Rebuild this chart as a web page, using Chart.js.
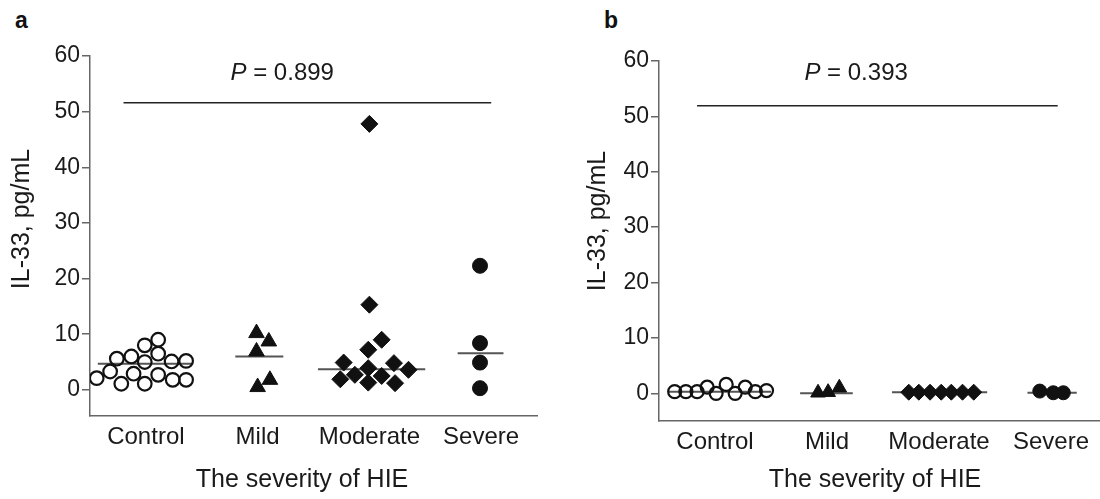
<!DOCTYPE html>
<html>
<head>
<meta charset="utf-8">
<script src="https://cdn.jsdelivr.net/npm/chart.js@4/dist/chart.umd.min.js"></script>
<style>
html, body { margin: 0; padding: 0; background: #fff; overflow: hidden; width: 1100px; height: 499px; }
canvas { position: absolute; top: 0; }
.tag { position: absolute; font: bold 23px "Liberation Sans", Arial, sans-serif; color: #111; }
</style>
</head>
<body>
<div class="tag" style="left:15px;top:7px">a</div>
<div class="tag" style="left:604px;top:7px">b</div>
<canvas id="chartA" width="560" height="499" style="left:0px"></canvas>
<canvas id="chartB" width="560" height="499" style="left:570px"></canvas>
<script>
var categories = ["Control", "Mild", "Moderate", "Severe"];
var yTicks = [0, 10, 20, 30, 40, 50, 60];
var pValues = ["0.899", "0.393"];

// panel a - IL-33 values, pg/mL, with horizontal jitter around each category
var aControl = [2.1, 3.3, 5.6, 1.1, 6.0, 2.9, 8.0, 5.0, 1.1, 9.0, 6.5, 2.7, 5.1, 1.8, 5.2, 1.8];
var aControlJit = [-0.44, -0.32, -0.26, -0.22, -0.13, -0.11, -0.01, -0.01, -0.01, 0.11, 0.11, 0.11, 0.23, 0.24, 0.36, 0.36];
var aMild = [10.2, 8.7, 6.9, 1.8, 0.5];
var aMildJit = [-0.01, 0.10, -0.01, 0.11, 0.0];
var aModerate = [47.8, 15.3, 9.0, 7.2, 4.9, 4.8, 3.9, 3.6, 2.7, 2.5, 1.9, 1.3, 1.2];
var aModerateJit = [0.0, 0.0, 0.11, -0.01, -0.23, 0.22, -0.01, 0.35, -0.13, 0.11, -0.26, -0.01, 0.23];
var aSevere = [22.3, 8.4, 4.9, 0.3];
var aSevereJit = [-0.01, -0.01, -0.01, -0.01];
var aMedian = [4.7, 6.0, 3.7, 6.6];
var aMedianSpan = [[0.57, 1.42], [1.80, 2.23], [2.54, 3.50], [3.79, 4.20]];
var aPLine = { y: 51.6, from: 0.80, to: 4.09 };

// panel b
var bControl = [0.3, 0.3, 0.3, 1.1, 0.0, 1.6, 0.0, 1.1, 0.3, 0.5];
var bControlJit = [-0.36, -0.26, -0.16, -0.07, 0.01, 0.10, 0.18, 0.27, 0.36, 0.46];
var bMild = [0.1, 0.2, 1.0];
var bMildJit = [-0.08, 0.01, 0.11];
var bModerate = [0.2, 0.2, 0.2, 0.2, 0.2, 0.2, 0.2];
var bModerateJit = [-0.27, -0.18, -0.08, 0.02, 0.11, 0.21, 0.31];
var bSevere = [0.4, 0.1, 0.1];
var bSevereJit = [-0.10, 0.02, 0.11];
var bMedian = [0.3, 0.0, 0.2, 0.1];
var bMedianSpan = [[0.58, 1.50], [1.76, 2.23], [2.58, 3.43], [3.79, 4.23]];
var bPLine = { y: 51.9, from: 0.84, to: 4.06 };

var FONT = '"Liberation Sans", Arial, Helvetica, sans-serif';
var INK = "#1a1a1a";
var AXIS = "#666";

// P value text and the two axis titles, drawn on the canvas
var annotate = {
    id: "annotate",
    afterDatasetsDraw: function(chart, args, opts) {
        var ctx = chart.ctx;
        var x = chart.scales.x.getPixelForValue(opts.x);
        var y = chart.scales.y.getPixelForValue(opts.y);
        var rest = " = " + opts.text;
        ctx.save();
        ctx.fillStyle = INK;
        ctx.textBaseline = "middle";
        ctx.font = "italic 24px " + FONT;
        var w1 = ctx.measureText("P").width;
        ctx.font = "24px " + FONT;
        var w2 = ctx.measureText(rest).width;
        var sx = x - (w1 + w2) / 2;
        ctx.font = "italic 24px " + FONT;
        ctx.fillText("P", sx, y);
        ctx.font = "24px " + FONT;
        ctx.fillText(rest, sx + w1, y);

        ctx.font = "25px " + FONT;
        ctx.textAlign = "center";
        ctx.fillText("The severity of HIE", opts.xTitle[0], opts.xTitle[1]);
        ctx.translate(opts.yTitle[0], opts.yTitle[1]);
        ctx.rotate(-Math.PI / 2);
        ctx.fillText("IL-33, pg/mL", 0, 0);
        ctx.restore();
    }
};

function points(vals, jit, cat) {
    return vals.map(function(v, i) { return { x: cat + jit[i], y: v }; });
}

function segment(from, to, y, color, width) {
    return {
        type: "line",
        data: [{ x: from, y: y }, { x: to, y: y }],
        borderColor: color,
        borderWidth: width,
        pointRadius: 0,
        order: 2
    };
}

function markers(data, style, radius, fill) {
    return {
        type: "scatter",
        data: data,
        pointStyle: style,
        pointRadius: radius,
        pointHoverRadius: radius,
        pointBorderWidth: fill ? 1 : 2.2,
        backgroundColor: fill ? "#111" : "rgba(0,0,0,0)",
        borderColor: "#111",
        order: 1
    };
}

function makePanel(id, p) {
    var datasets = [];
    p.median.forEach(function(m, i) {
        datasets.push(segment(p.span[i][0], p.span[i][1], m, "#555", 2));
    });
    datasets.push(segment(p.pLine.from, p.pLine.to, p.pLine.y, "#222", 1.5));
    datasets.push(markers(points(p.groups[0], p.jits[0], 1), "circle", p.ringR, false));
    datasets.push(markers(points(p.groups[1], p.jits[1], 2), "triangle", p.triR, true));
    datasets.push(markers(points(p.groups[2], p.jits[2], 3), "rectRot", p.diaR, true));
    datasets.push(markers(points(p.groups[3], p.jits[3], 4), "circle", p.dotR, true));

    return new Chart(document.getElementById(id), {
        type: "scatter",
        data: { datasets: datasets },
        plugins: [annotate],
        options: {
            responsive: false,
            animation: false,
            layout: { padding: { top: p.top, right: 23, bottom: 0, left: 0 } },
            elements: { line: { tension: 0 } },
            plugins: {
                legend: { display: false },
                tooltip: { enabled: false },
                annotate: { x: p.pX, y: p.pY, text: p.pText, xTitle: p.xTitle, yTitle: p.yTitle }
            },
            scales: {
                x: {
                    type: "linear",
                    min: 0.5,
                    max: 4.5,
                    afterBuildTicks: function(s) {
                        s.ticks = categories.map(function(c, i) { return { value: i + 1 }; });
                    },
                    afterFit: function(s) { s.height = p.xH; },
                    grid: { display: false, drawTicks: false },
                    border: { display: true, color: AXIS, width: 1.5 },
                    ticks: {
                        color: INK,
                        font: { family: FONT, size: 24 },
                        padding: 7,
                        maxRotation: 0,
                        autoSkip: false,
                        callback: function(v) { return categories[Math.round(v) - 1]; }
                    }
                },
                y: {
                    type: "linear",
                    min: p.yMin,
                    max: 60,
                    afterBuildTicks: function(s) {
                        s.ticks = yTicks.map(function(v) { return { value: v }; });
                    },
                    afterFit: function(s) { s.width = p.yW; },
                    grid: { drawOnChartArea: false, drawTicks: true, tickLength: 8, color: AXIS, lineWidth: 1.5 },
                    border: { display: true, color: AXIS, width: 1.5 },
                    ticks: { color: INK, font: { family: FONT, size: 23 }, padding: 2 }
                }
            }
        }
    });
}

makePanel("chartA", {
    groups: [aControl, aMild, aModerate, aSevere],
    jits: [aControlJit, aMildJit, aModerateJit, aSevereJit],
    median: aMedian, span: aMedianSpan, pLine: aPLine,
    pX: 2.22, pY: 56.9, pText: pValues[0],
    ringR: 6.8, triR: 9, diaR: 8.5, dotR: 7.5,
    top: 56, yMin: -4.7, yW: 90, xH: 83,
    xTitle: [302, 480], yTitle: [22, 219]
});

makePanel("chartB", {
    groups: [bControl, bMild, bModerate, bSevere],
    jits: [bControlJit, bMildJit, bModerateJit, bSevereJit],
    median: bMedian, span: bMedianSpan, pLine: bPLine,
    pX: 2.26, pY: 57.8, pText: pValues[1],
    ringR: 6.5, triR: 8.5, diaR: 8, dotR: 7,
    top: 61, yMin: -5, yW: 89, xH: 78,
    xTitle: [305, 480], yTitle: [28, 221]
});
</script>
</body>
</html>
